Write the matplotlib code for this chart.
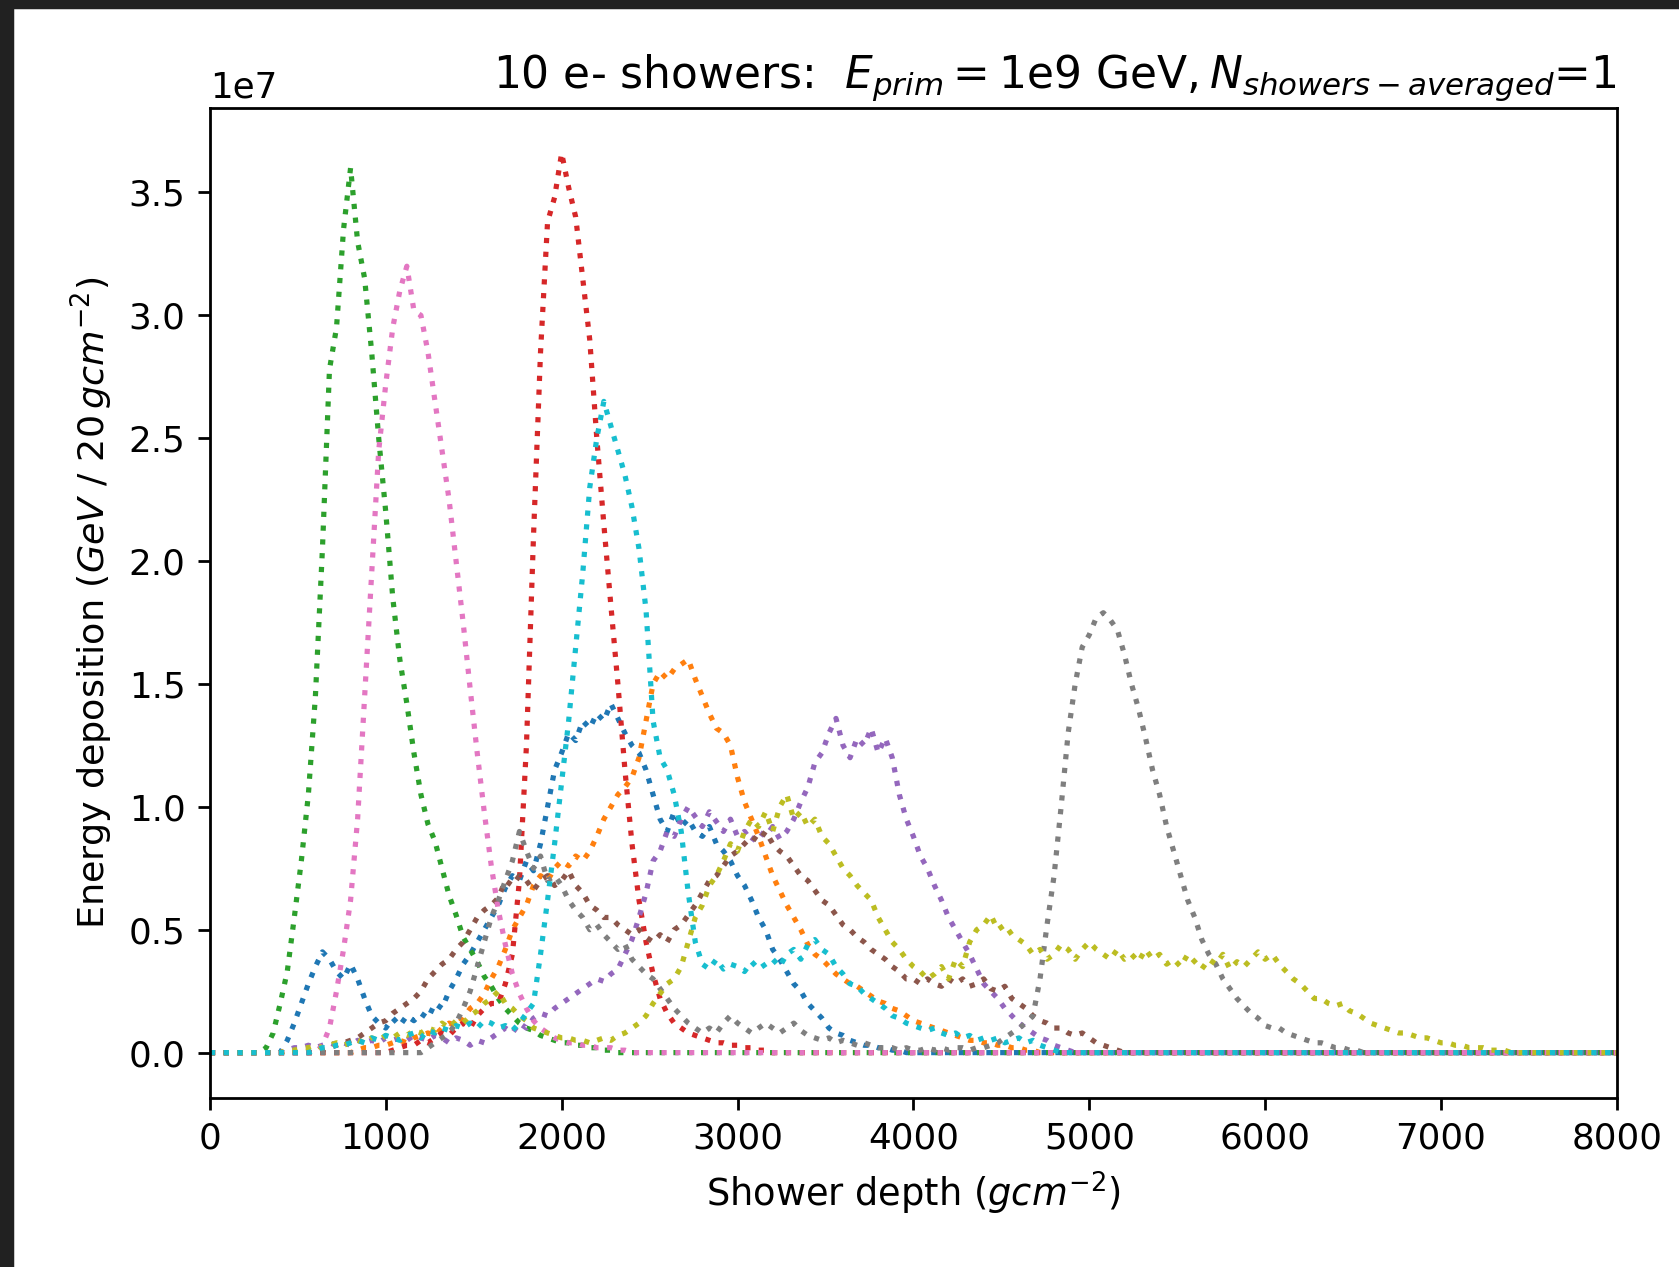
import numpy as np
import matplotlib
matplotlib.use('Agg')
import matplotlib.pyplot as plt
from matplotlib.patches import Rectangle

# energy deposition per 20 g/cm^2 bin, units of 1e7 GeV, sampled every 40 g/cm^2
step = 40

blue_start = 400
blue = [0.0, 0.05, 0.12, 0.2, 0.28, 0.35, 0.41, 0.38, 0.33, 0.3, 0.36, 0.3, 0.22, 0.15, 0.12, 0.1,
        0.14, 0.11, 0.15, 0.13, 0.16, 0.14, 0.2, 0.18, 0.25, 0.3, 0.36, 0.4, 0.45, 0.5, 0.55, 0.6,
        0.67, 0.72, 0.7, 0.78, 0.74, 0.85, 1.0, 1.15, 1.22, 1.3, 1.27, 1.35, 1.32, 1.38, 1.35, 1.42,
        1.36, 1.3, 1.25, 1.22, 1.15, 1.05, 0.95, 0.9, 0.98, 0.92, 0.95, 0.9, 0.88, 0.92, 0.85, 0.82,
        0.78, 0.72, 0.68, 0.62, 0.55, 0.5, 0.42, 0.38, 0.33, 0.28, 0.25, 0.2, 0.17, 0.14, 0.1, 0.08,
        0.07, 0.05, 0.04, 0.03, 0.03, 0.02, 0.02, 0.01, 0.01, 0.0]

orange_start = 800
orange = [0.0, 0.01, 0.02, 0.02, 0.03, 0.03, 0.04, 0.05, 0.04, 0.06, 0.07, 0.08, 0.07, 0.1, 0.12, 0.11,
          0.14, 0.18, 0.2, 0.24, 0.3, 0.35, 0.42, 0.5, 0.55, 0.6, 0.68, 0.72, 0.7, 0.75, 0.78, 0.76,
          0.8, 0.78, 0.82, 0.88, 0.95, 1.0, 1.05, 1.08, 1.12, 1.2, 1.35, 1.5, 1.55, 1.52, 1.56, 1.58,
          1.6, 1.52, 1.45, 1.38, 1.32, 1.3, 1.25, 1.12, 1.02, 0.95, 0.88, 0.8, 0.72, 0.66, 0.6, 0.55,
          0.5, 0.44, 0.4, 0.38, 0.35, 0.32, 0.3, 0.28, 0.27, 0.25, 0.23, 0.21, 0.2, 0.18, 0.17, 0.15,
          0.13, 0.12, 0.11, 0.1, 0.09, 0.08, 0.07, 0.06, 0.05, 0.05, 0.04, 0.04, 0.03, 0.03, 0.02,
          0.02, 0.01, 0.01, 0.0]

green_start = 280
green = [0.0, 0.02, 0.08, 0.2, 0.33, 0.55, 0.78, 1.05, 1.45, 2.05, 2.78, 2.95, 3.35, 3.6, 3.3, 3.15,
         2.85, 2.5, 2.2, 1.85, 1.6, 1.42, 1.22, 1.05, 0.93, 0.86, 0.75, 0.64, 0.56, 0.47, 0.42, 0.37,
         0.31, 0.27, 0.22, 0.18, 0.15, 0.12, 0.1, 0.09, 0.07, 0.06, 0.05, 0.04, 0.04, 0.03, 0.03,
         0.02, 0.02, 0.01, 0.01, 0.0]

red_start = 1000
red = [0.0, 0.01, 0.02, 0.03, 0.03, 0.05, 0.04, 0.06, 0.08, 0.07, 0.1, 0.12, 0.1, 0.15, 0.18, 0.2,
       0.2, 0.28, 0.4, 0.7, 1.25, 2.1, 2.85, 3.38, 3.48, 3.66, 3.52, 3.4, 3.15, 2.9, 2.5, 2.15, 1.82,
       1.5, 1.15, 0.85, 0.62, 0.45, 0.32, 0.22, 0.16, 0.12, 0.1, 0.08, 0.07, 0.06, 0.05, 0.04, 0.04,
       0.03, 0.03, 0.02, 0.02, 0.01, 0.01, 0.0]

purple_start = 400
purple = [0.0, 0.01, 0.02, 0.02, 0.03, 0.02, 0.03, 0.04, 0.03, 0.04, 0.03, 0.05, 0.04, 0.05, 0.04,
          0.06, 0.05, 0.06, 0.05, 0.07, 0.06, 0.05, 0.07, 0.06, 0.04, 0.06, 0.05, 0.03, 0.05, 0.04,
          0.06, 0.08, 0.1, 0.08, 0.12, 0.1, 0.14, 0.16, 0.15, 0.18, 0.2, 0.22, 0.24, 0.26, 0.28, 0.3,
          0.29, 0.32, 0.34, 0.4, 0.46, 0.55, 0.65, 0.78, 0.82, 0.9, 0.88, 0.95, 1.0, 0.96, 0.92, 0.98,
          0.94, 0.9, 0.95, 0.88, 0.9, 0.86, 0.9, 0.88, 0.92, 0.87, 0.9, 0.95, 1.02, 1.08, 1.18, 1.22,
          1.3, 1.36, 1.25, 1.2, 1.28, 1.25, 1.32, 1.22, 1.28, 1.2, 1.05, 0.95, 0.88, 0.8, 0.75, 0.68,
          0.62, 0.55, 0.5, 0.45, 0.4, 0.34, 0.28, 0.25, 0.22, 0.18, 0.15, 0.12, 0.1, 0.08, 0.06, 0.05,
          0.03, 0.02, 0.01, 0.0]

brown_start = 600
brown = [0.0, 0.01, 0.02, 0.03, 0.04, 0.05, 0.06, 0.08, 0.1, 0.12, 0.13, 0.16, 0.18, 0.2, 0.22, 0.25,
         0.3, 0.33, 0.36, 0.38, 0.42, 0.45, 0.5, 0.55, 0.58, 0.6, 0.63, 0.7, 0.68, 0.72, 0.7, 0.66,
         0.7, 0.72, 0.68, 0.7, 0.74, 0.68, 0.65, 0.6, 0.58, 0.55, 0.55, 0.52, 0.5, 0.48, 0.5, 0.47,
         0.45, 0.48, 0.45, 0.5, 0.52, 0.56, 0.6, 0.65, 0.7, 0.72, 0.76, 0.8, 0.82, 0.85, 0.88, 0.86,
         0.9, 0.85, 0.82, 0.8, 0.76, 0.72, 0.7, 0.66, 0.62, 0.6, 0.56, 0.52, 0.5, 0.47, 0.45, 0.42,
         0.4, 0.38, 0.35, 0.33, 0.3, 0.3, 0.28, 0.3, 0.28, 0.27, 0.3, 0.28, 0.3, 0.27, 0.28, 0.3,
         0.26, 0.25, 0.27, 0.22, 0.2, 0.18, 0.15, 0.13, 0.12, 0.1, 0.1, 0.08, 0.07, 0.08, 0.06, 0.04,
         0.03, 0.02, 0.01, 0.0]

pink_start = 600
pink = [0.0, 0.03, 0.1, 0.25, 0.42, 0.62, 0.95, 1.45, 1.95, 2.45, 2.72, 2.95, 3.1, 3.2, 3.02, 3.0,
        2.85, 2.65, 2.45, 2.25, 2.0, 1.75, 1.48, 1.22, 0.98, 0.76, 0.58, 0.44, 0.32, 0.24, 0.18,
        0.13, 0.1, 0.08, 0.06, 0.05, 0.04, 0.04, 0.03, 0.03, 0.02, 0.02, 0.02, 0.01, 0.01, 0.0]

gray_start = 1200
gray = [0.0, 0.02, 0.04, 0.06, 0.08, 0.12, 0.18, 0.25, 0.35, 0.45, 0.55, 0.62, 0.7, 0.78, 0.9, 0.82,
        0.75, 0.8, 0.7, 0.72, 0.68, 0.62, 0.58, 0.55, 0.5, 0.52, 0.48, 0.45, 0.42, 0.44, 0.38, 0.35,
        0.32, 0.3, 0.26, 0.22, 0.18, 0.15, 0.12, 0.1, 0.08, 0.1, 0.08, 0.12, 0.15, 0.12, 0.1, 0.08,
        0.1, 0.12, 0.1, 0.08, 0.1, 0.12, 0.09, 0.07, 0.06, 0.05, 0.06, 0.04, 0.05, 0.04, 0.03, 0.04,
        0.03, 0.02, 0.02, 0.02, 0.01, 0.02, 0.01, 0.01, 0.02, 0.01, 0.02, 0.01, 0.02, 0.02, 0.01,
        0.02, 0.02, 0.03, 0.04, 0.06, 0.08, 0.1, 0.12, 0.15, 0.3, 0.52, 0.72, 1.0, 1.3, 1.5, 1.65,
        1.7, 1.77, 1.79, 1.76, 1.72, 1.62, 1.5, 1.4, 1.28, 1.15, 1.05, 0.92, 0.82, 0.72, 0.62, 0.55,
        0.46, 0.4, 0.36, 0.3, 0.26, 0.22, 0.19, 0.16, 0.14, 0.11, 0.1, 0.1, 0.08, 0.07, 0.06, 0.05,
        0.04, 0.04, 0.03, 0.02, 0.02, 0.01, 0.01, 0.0]

olive_start = 400
olive = [0.0, 0.01, 0.01, 0.02, 0.02, 0.03, 0.02, 0.03, 0.04, 0.03, 0.04, 0.05, 0.04, 0.06, 0.05, 0.07,
         0.06, 0.08, 0.07, 0.09, 0.08, 0.1, 0.09, 0.12, 0.1, 0.13, 0.12, 0.15, 0.17, 0.2, 0.22, 0.25,
         0.2, 0.18, 0.15, 0.13, 0.1, 0.09, 0.08, 0.07, 0.06, 0.06, 0.05, 0.05, 0.04, 0.05, 0.06, 0.05,
         0.07, 0.08, 0.1, 0.12, 0.15, 0.2, 0.24, 0.28, 0.3, 0.35, 0.45, 0.55, 0.6, 0.68, 0.72, 0.78,
         0.85, 0.82, 0.9, 0.95, 0.92, 0.98, 0.9, 1.0, 1.05, 0.95, 0.98, 0.92, 0.95, 0.88, 0.85, 0.8,
         0.75, 0.72, 0.68, 0.65, 0.62, 0.55, 0.5, 0.45, 0.42, 0.38, 0.35, 0.33, 0.3, 0.32, 0.35, 0.3,
         0.38, 0.35, 0.45, 0.5, 0.52, 0.56, 0.5, 0.52, 0.48, 0.46, 0.44, 0.4, 0.42, 0.38, 0.4, 0.44,
         0.42, 0.38, 0.42, 0.45, 0.42, 0.4, 0.38, 0.42, 0.38, 0.4, 0.37, 0.42, 0.38, 0.4, 0.36, 0.38,
         0.35, 0.4, 0.37, 0.34, 0.38, 0.36, 0.4, 0.34, 0.37, 0.35, 0.38, 0.41, 0.38, 0.4, 0.36, 0.33,
         0.3, 0.28, 0.25, 0.22, 0.22, 0.2, 0.19, 0.2, 0.17, 0.16, 0.14, 0.12, 0.11, 0.1, 0.09, 0.08,
         0.08, 0.07, 0.06, 0.06, 0.05, 0.04, 0.04, 0.03, 0.03, 0.02, 0.02, 0.02, 0.01, 0.01, 0.01, 0.0]

cyan_start = 560
cyan = [0.0, 0.01, 0.02, 0.02, 0.03, 0.03, 0.04, 0.05, 0.04, 0.06, 0.05, 0.07, 0.06, 0.05, 0.07, 0.08,
        0.06, 0.09, 0.08, 0.1, 0.09, 0.11, 0.1, 0.12, 0.1, 0.13, 0.12, 0.1, 0.11, 0.09, 0.12, 0.16,
        0.2, 0.4, 0.62, 0.85, 1.1, 1.35, 1.65, 1.95, 2.3, 2.5, 2.65, 2.55, 2.45, 2.35, 2.22, 2.05,
        1.8, 1.35, 1.2, 1.15, 1.05, 0.9, 0.65, 0.45, 0.36, 0.34, 0.38, 0.34, 0.36, 0.35, 0.33, 0.37,
        0.34, 0.36, 0.38, 0.35, 0.4, 0.42, 0.38, 0.44, 0.46, 0.42, 0.4, 0.35, 0.32, 0.28, 0.27, 0.24,
        0.22, 0.2, 0.18, 0.15, 0.14, 0.12, 0.11, 0.1, 0.09, 0.1, 0.08, 0.07, 0.08, 0.06, 0.07, 0.05,
        0.06, 0.05, 0.06, 0.04, 0.05, 0.06, 0.04, 0.05, 0.03, 0.02, 0.01, 0.0]

showers = [(blue_start, blue), (orange_start, orange), (green_start, green), (red_start, red),
           (purple_start, purple), (brown_start, brown), (pink_start, pink), (gray_start, gray),
           (olive_start, olive), (cyan_start, cyan)]

x_max = 8000

plt.rcParams['font.size'] = 10.3

fig = plt.figure(figsize=(1679 / 250, 1267 / 250), dpi=250)
ax = fig.add_axes([0.125, 0.1337, 0.963 - 0.125, 0.9146 - 0.1337])

for start, vals in showers:
    depth = start + step * np.arange(len(vals))
    # zero deposit outside the recorded range
    xs = np.concatenate([[0], depth, [x_max]])
    ys = np.concatenate([[0], vals, [0]]) * 1e7
    ax.plot(xs, ys, ':')

ax.set_xlim(0, x_max)
ax.set_xlabel(r'Shower depth ($gcm^{-2}$)', fontsize=10.6)
ax.set_ylabel(r'Energy deposition ($GeV\ /\ 20\,gcm^{-2}$)', fontsize=10.5)
ax.set_title(r'10 e- showers:  $E_{prim} = $1e9 GeV$, N_{showers-averaged}$=1', loc='right',
             fontsize=12.7)

# dark frame of the screenshot
fig.patches.append(Rectangle((0, 1 - 7 / 1267), 1, 7 / 1267, transform=fig.transFigure,
                             color='#212121', zorder=10))
fig.patches.append(Rectangle((0, 0), 12 / 1679, 1, transform=fig.transFigure,
                             color='#212121', zorder=10))

fig.savefig('out.png', dpi=250)
